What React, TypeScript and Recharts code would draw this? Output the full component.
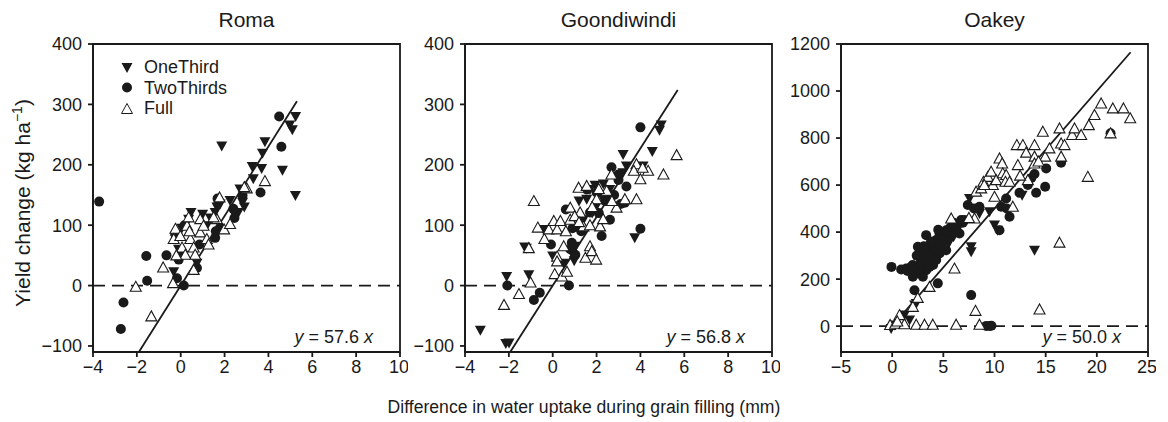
import React from 'react';
import {
  ScatterChart,
  Scatter,
  XAxis,
  YAxis,
  ReferenceLine,
  ReferenceArea,
} from 'recharts';

// ── Data: [water uptake diff (mm), yield change (kg/ha)] ──
const romaOneThird = [
  [1.87, 231], [5.24, 280], [4.97, 266], [5.09, 258], [5.23, 149], [4.64, 191], [3.84, 238],
  [3.73, 219], [3.69, 194], [3.26, 197], [3.31, 177], [2.7, 160], [2.25, 141], [2.82, 138],
  [2.63, 121], [2.48, 116], [1.8, 135], [1.65, 130], [1.57, 121], [1.19, 99], [0.47, 121],
  [0.36, 110], [-0.24, 77], [-0.32, 23], [0.74, 37], [0.05, 95], [1.0, 118], [1.35, 112],
  [2.9, 130], [-0.1, 60],
];
const romaTwoThirds = [
  [-3.72, 139], [-2.61, -28], [-2.73, -72], [-1.57, 49], [-1.53, 8], [-0.65, 50], [-0.24, 85],
  [0.17, 100], [-0.09, 43], [-0.17, 12], [0.14, 0], [0.74, 29], [0.86, 68], [1.57, 79],
  [1.8, 96], [2.4, 127], [2.82, 149], [3.64, 154], [4.49, 280], [4.59, 230], [1.68, 144],
  [0.05, 55], [1.6, 90], [2.45, 112],
];
const romaFull = [
  [-2.05, -2], [-1.34, -51], [-0.8, 30], [-0.35, 4], [-0.24, 94], [-0.32, 77], [-0.02, 82],
  [0.06, 63], [0.29, 99], [0.44, 77], [0.59, 63], [0.66, 51], [0.59, 26], [0.89, 110],
  [0.89, 88], [1.04, 99], [1.19, 77], [1.27, 68], [1.65, 110], [1.77, 146], [1.98, 93],
  [2.25, 102], [3.01, 161], [3.84, 173], [0.36, 113], [0.21, 51], [1.5, 113], [2.9, 163],
  [-0.2, 50], [0.4, 90],
];

const goondiOneThird = [
  [-3.3, -74], [-2.14, -96], [-1.99, -95], [-2.1, 15], [-1.28, 64], [-1.09, 18], [-0.41, 93],
  [0, 49], [0.5, 37], [0.98, 41], [1.04, 65], [1.7, 159], [1.93, 166], [2.31, 168], [2.46, 143],
  [3.21, 217], [3.36, 198], [3.74, 79], [4.12, 198], [4.54, 222], [4.95, 266], [4.87, 257],
  [1.4, 109], [1.55, 143], [2.0, 132], [2.6, 159], [0.87, 54], [3.2, 187], [1.2, 140],
  [1.8, 120], [2.2, 150], [-1.2, 62],
];
const goondiTwoThirds = [
  [-2.07, 0], [-0.86, -24], [-0.59, -12], [-0.08, 68], [0.6, 126], [0.74, 0], [0.87, 71],
  [1.03, 51], [1.7, 121], [2.23, 82], [2.61, 109], [2.68, 196], [2.99, 184], [3.29, 137],
  [3.36, 164], [4.0, 262], [4.0, 94], [1.55, 159], [2.0, 154], [1.1, 98], [0.9, 95], [1.3, 90],
  [2.4, 140], [2.8, 150], [3.1, 135], [2.1, 120], [3.0, 175], [0.8, 60],
];
const goondiFull = [
  [-2.22, -32], [-1.54, -14], [-0.86, 140], [-1.01, 5], [-1.09, 62], [-0.68, 96], [-0.38, 77],
  [-0.18, 93], [0.05, 107], [0.2, 93], [0.35, 107], [0.5, 65], [0.2, 48], [0.2, 40], [0.09, 19],
  [0.42, 15], [0.65, 23], [0.8, 109], [0.8, 129], [1.18, 162], [1.25, 121], [1.4, 98],
  [1.49, 46], [1.7, 65], [1.78, 57], [1.98, 43], [2.0, 143], [2.16, 98], [2.68, 184],
  [2.91, 129], [3.29, 143], [3.82, 143], [3.82, 201], [4.0, 176], [4.35, 190], [5.05, 184],
  [5.65, 216], [1.55, 165], [2.46, 157], [1.0, 115], [1.7, 100], [2.3, 110], [2.7, 140],
  [3.7, 190], [4.1, 195], [1.2, 105], [0.6, 90], [2.1, 160], [1.8, 130],
];

const oakeyOneThird = [
  [-0.1, -10], [0.2, 5], [1.2, 47], [1.7, 26], [2.35, 96], [3.16, 224], [7.56, 543],
  [7.72, 338], [7.72, 316], [8.53, 479], [9.51, 487], [10.0, 430], [10.3, 408], [12.7, 557],
  [13.91, 323], [4.5, 300], [5.5, 350], [6.5, 420], [2.2, 90], [3.6, 280], [6.0, 380],
];
const oakeyTwoThirds = [
  [-0.07, 252], [0.88, 241], [1.37, 245], [1.86, 252], [2.18, 153], [2.51, 338], [3.32, 387],
  [4.46, 182], [4.3, 366], [5.28, 408], [5.93, 423], [6.74, 451], [6.58, 394], [7.39, 515],
  [7.72, 132], [8.53, 508], [9.19, 1], [9.51, 1], [9.7, 2], [10.49, 408], [10.65, 508],
  [11.14, 543], [11.47, 465], [12.44, 567], [13.26, 600], [13.91, 647], [14.07, 567],
  [15.05, 671], [14.95, 593], [16.51, 695], [21.34, 820], [2.67, 295], [3.0, 309], [3.65, 323],
  [3.97, 338], [4.3, 352], [4.63, 394], [4.95, 394], [5.28, 366], [5.6, 380], [5.93, 394],
  [6.25, 408], [3.65, 252], [3.32, 238], [2.67, 252], [3.97, 295], [4.63, 309], [5.28, 323],
  [4.3, 281], [3.0, 210], [2.35, 224], [2.02, 210], [7.07, 451], [1.5, 235], [2.0, 260],
  [3.3, 270], [4.0, 260], [4.8, 340], [5.7, 420], [6.9, 440], [11.2, 500], [8.0, 500],
  [13.6, 630], [3.5, 300], [4.2, 320], [5.0, 370], [2.8, 270], [3.8, 360], [4.5, 410],
  [6.0, 440], [2.4, 300], [3.1, 340], [5.4, 400],
];
const oakeyFull = [
  [-0.2, 5], [0.3, 10], [1.2, 8], [2.35, 6], [3.16, 6], [3.97, 6], [6.25, 6], [8.53, 6],
  [0.72, 47], [0.5, 20], [2.02, 82], [3.65, 167], [2.5, 120], [6.09, 245], [5.77, 458],
  [8.14, 65], [14.4, 71], [16.35, 355], [19.12, 635], [8.05, 458], [8.2, 572], [8.7, 586],
  [8.92, 614], [9.35, 635], [9.67, 657], [9.84, 600], [10.0, 550], [10.16, 621], [10.49, 713],
  [10.75, 692], [10.81, 650], [11.14, 643], [11.07, 614], [11.47, 614], [11.79, 508],
  [12.28, 685], [12.18, 770], [12.77, 770], [13.09, 738], [13.26, 621], [13.91, 770],
  [13.91, 721], [13.91, 692], [14.72, 827], [14.95, 721], [15.37, 756], [16.35, 841],
  [16.51, 777], [16.84, 770], [16.51, 721], [17.59, 813], [17.82, 841], [18.47, 813],
  [19.22, 855], [19.77, 898], [20.42, 947], [21.56, 926], [22.6, 926], [23.26, 884],
  [21.34, 820], [7.5, 460], [12.5, 640], [9.0, 600], [14.3, 700],
];

// fitted slopes and the x-range each fit line is drawn over
const romaFit = { slope: 57.6, from: -1.9, to: 5.3 };
const goondiFit = { slope: 56.8, from: -1.93, to: 5.7 };
const oakeyFit = { slope: 50.0, from: 0, to: 23.3 };

const smallXTicks = [-4, -2, 0, 2, 4, 6, 8, 10];
const smallYTicks = [-100, 0, 100, 200, 300, 400];
const oakeyXTicks = [-5, 0, 5, 10, 15, 20, 25];
const oakeyYTicks = [0, 200, 400, 600, 800, 1000, 1200];

const FONT = '"Liberation Sans", Arial, Helvetica, sans-serif';
const INK = '#1a1a1a';

const pts = (a: number[][]) => a.map(([x, y]) => ({ x, y }));
const minus = (v: number) => String(v).replace('-', '\u2212');

// ── marker shapes ─────────────────────────────────────────────────────────
function DownTri(p: any) {
  const { cx, cy } = p;
  return <path d={`M${cx - 5.5},${cy - 4.5}L${cx + 5.5},${cy - 4.5}L${cx},${cy + 5.5}Z`} fill={INK} />;
}
function Dot(p: any) {
  return <circle cx={p.cx} cy={p.cy} r={5} fill={INK} />;
}
function OpenTri(p: any) {
  const { cx, cy } = p;
  return (
    <path
      d={`M${cx},${cy - 5.5}L${cx + 5.5},${cy + 4.5}L${cx - 5.5},${cy + 4.5}Z`}
      fill="#fff"
      stroke={INK}
      strokeWidth={1.1}
    />
  );
}

function LegendBox() {
  const rows = [
    { label: 'OneThird', icon: <path d="M1.5,3L12.5,3L7,13Z" fill={INK} /> },
    { label: 'TwoThirds', icon: <circle cx={7} cy={7.5} r={5} fill={INK} /> },
    { label: 'Full', icon: <path d="M7,2.5L12.5,12.5L1.5,12.5Z" fill="#fff" stroke={INK} /> },
  ];
  return (
    <div
      style={{
        position: 'absolute',
        left: 87,
        top: 57,
        fontFamily: FONT,
        fontSize: 18,
        color: INK,
        lineHeight: '20.5px',
      }}
    >
      {rows.map((r) => (
        <div key={r.label} style={{ display: 'flex', alignItems: 'center' }}>
          <svg width={14} height={15} style={{ marginRight: 10 }}>
            {r.icon}
          </svg>
          <span>{r.label}</span>
        </div>
      ))}
    </div>
  );
}

interface PanelProps {
  left: number;
  title: string;
  xDomain: [number, number];
  xTicks: number[];
  yDomain: [number, number];
  yTicks: number[];
  fit: { slope: number; from: number; to: number };
  oneThird: number[][];
  twoThirds: number[][];
  full: number[][];
  legend?: boolean;
}

const PW = 375;
const PH = 422;

function Panel(p: PanelProps) {
  const axisStyle = { stroke: INK, strokeWidth: 1.8 };
  return (
    <div style={{ position: 'absolute', left: p.left, top: 0, width: PW, height: PH }}>
      <div
        style={{
          position: 'absolute',
          left: 60,
          width: 307,
          top: 8,
          textAlign: 'center',
          fontFamily: FONT,
          fontSize: 21,
          color: INK,
        }}
      >
        {p.title}
      </div>
      <ScatterChart width={PW} height={PH} margin={{ top: 44, right: 8, bottom: 40, left: 5 }}>
        <XAxis
          type="number"
          dataKey="x"
          domain={p.xDomain}
          ticks={p.xTicks}
          allowDataOverflow
          height={30}
          tickSize={5}
          tickMargin={3}
          axisLine={axisStyle}
          tickLine={axisStyle}
          tick={{ fill: INK, fontSize: 18, fontFamily: FONT }}
          tickFormatter={minus}
        />
        <YAxis
          type="number"
          dataKey="y"
          domain={p.yDomain}
          ticks={p.yTicks}
          allowDataOverflow
          width={55}
          tickSize={5}
          tickMargin={6}
          axisLine={axisStyle}
          tickLine={axisStyle}
          tick={{ fill: INK, fontSize: 18, fontFamily: FONT }}
          tickFormatter={minus}
        />
        <ReferenceArea
          x1={p.xDomain[0]}
          x2={p.xDomain[1]}
          y1={p.yDomain[0]}
          y2={p.yDomain[1]}
          fill="none"
          stroke={INK}
          strokeWidth={1.8}
        />
        <ReferenceLine y={0} stroke={INK} strokeWidth={1.8} strokeDasharray="12 7" />
        <ReferenceLine
          stroke={INK}
          strokeWidth={1.8}
          segment={[
            { x: p.fit.from, y: p.fit.slope * p.fit.from },
            { x: p.fit.to, y: p.fit.slope * p.fit.to },
          ]}
        />
        <Scatter name="OneThird" data={pts(p.oneThird)} shape={DownTri} isAnimationActive={false} />
        <Scatter name="TwoThirds" data={pts(p.twoThirds)} shape={Dot} isAnimationActive={false} />
        <Scatter name="Full" data={pts(p.full)} shape={OpenTri} isAnimationActive={false} />
      </ScatterChart>
      {p.legend && <LegendBox />}
      <div
        style={{
          position: 'absolute',
          right: 35,
          top: 327,
          fontFamily: FONT,
          fontSize: 18,
          color: INK,
          whiteSpace: 'pre',
        }}
      >
        <i>y</i>
        {` = ${p.fit.slope.toFixed(1)} `}
        <i>x</i>
      </div>
    </div>
  );
}

export default function App() {
  return (
    <div
      style={{
        position: 'absolute',
        left: 0,
        top: 0,
        width: 1168,
        height: 422,
        background: '#fff',
        fontFamily: FONT,
      }}
    >
      <Panel
        left={33}
        title="Roma"
        xDomain={[-4, 10]}
        xTicks={smallXTicks}
        yDomain={[-110, 400]}
        yTicks={smallYTicks}
        fit={romaFit}
        oneThird={romaOneThird}
        twoThirds={romaTwoThirds}
        full={romaFull}
        legend
      />
      <Panel
        left={405}
        title="Goondiwindi"
        xDomain={[-4, 10]}
        xTicks={smallXTicks}
        yDomain={[-110, 400]}
        yTicks={smallYTicks}
        fit={goondiFit}
        oneThird={goondiOneThird}
        twoThirds={goondiTwoThirds}
        full={goondiFull}
      />
      <Panel
        left={781}
        title="Oakey"
        xDomain={[-5, 25]}
        xTicks={oakeyXTicks}
        yDomain={[-110, 1200]}
        yTicks={oakeyYTicks}
        fit={oakeyFit}
        oneThird={oakeyOneThird}
        twoThirds={oakeyTwoThirds}
        full={oakeyFull}
      />
      <div
        style={{
          position: 'absolute',
          left: 22,
          top: 203,
          transform: 'translate(-50%, -50%) rotate(-90deg)',
          whiteSpace: 'nowrap',
          fontSize: 21,
          color: INK,
        }}
      >
        Yield change (kg ha<sup style={{ fontSize: 14 }}>−1</sup>)
      </div>
      <div
        style={{
          position: 'absolute',
          left: 0,
          width: 1168,
          top: 397,
          textAlign: 'center',
          fontSize: 17.6,
          color: INK,
        }}
      >
        Difference in water uptake during grain filling (mm)
      </div>
    </div>
  );
}
